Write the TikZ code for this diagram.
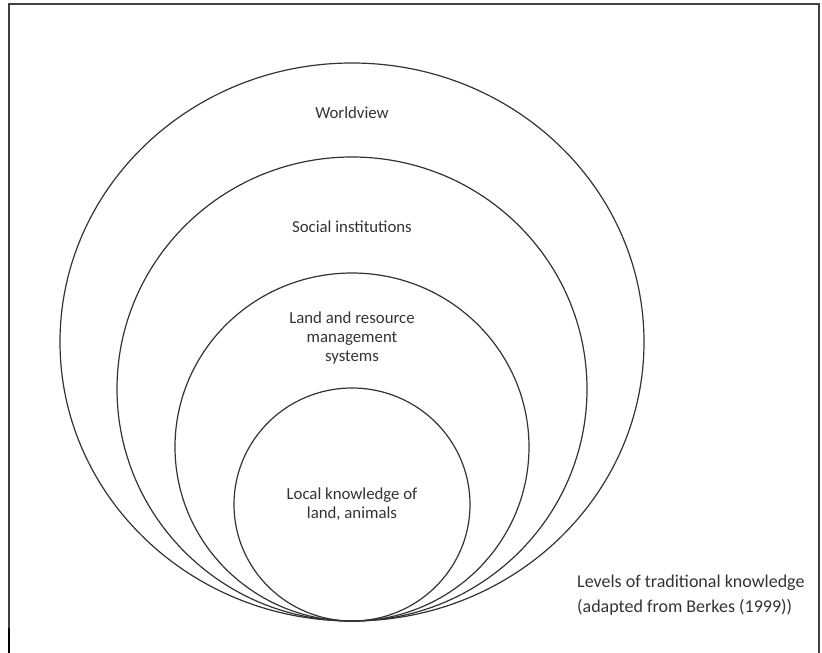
\documentclass[tikz,border=0pt]{standalone}
\usepackage{fontspec}
\setmainfont{Carlito}
\usetikzlibrary{calc}

\begin{document}
\begin{tikzpicture}[x=1pt, y=-1pt,
    ring/.style={draw=black!80, line width=1.2pt},
    lbl/.style={text=black!80, align=center, inner sep=0pt,
        font=\fontsize{16.8}{18.6}\selectfont}]
    \useasboundingbox (0,0) rectangle (822,653);
    \draw[line width=1.2pt, black!75] (9,653) -- (9,4) -- (819,4) -- (819,653);
    \draw[line width=2.6pt] (9,628) -- (9,653);

    % all levels touch at the bottom
    \coordinate (T) at (352,621);
    \draw[ring] ($(T)+(0,-279)$) coordinate (W) ellipse [x radius=292pt, y radius=279pt];
    \draw[ring] ($(T)+(0,-232)$) coordinate (S) ellipse [x radius=235pt, y radius=232pt];
    \draw[ring] ($(T)+(0,-174)$) coordinate (R) ellipse [x radius=177pt, y radius=174pt];
    \draw[ring] ($(T)+(0,-116.5)$) coordinate (L) ellipse [x radius=118pt, y radius=116.5pt];

    \node[lbl] (world) at (352,113) {Worldview};
    \node[lbl] (social) at (352,227) {Social institutions};
    \node[lbl] (land) at (352,338) {Land and resource\\management\\systems};
    \node[lbl] (local) at (352,504) {Local knowledge of\\land, animals};

    \node[lbl, anchor=west, align=left, font=\fontsize{18}{24.5}\selectfont]
        (caption) at (577,595) {Levels of traditional knowledge\\(adapted from Berkes (1999))};
\end{tikzpicture}
\end{document}
